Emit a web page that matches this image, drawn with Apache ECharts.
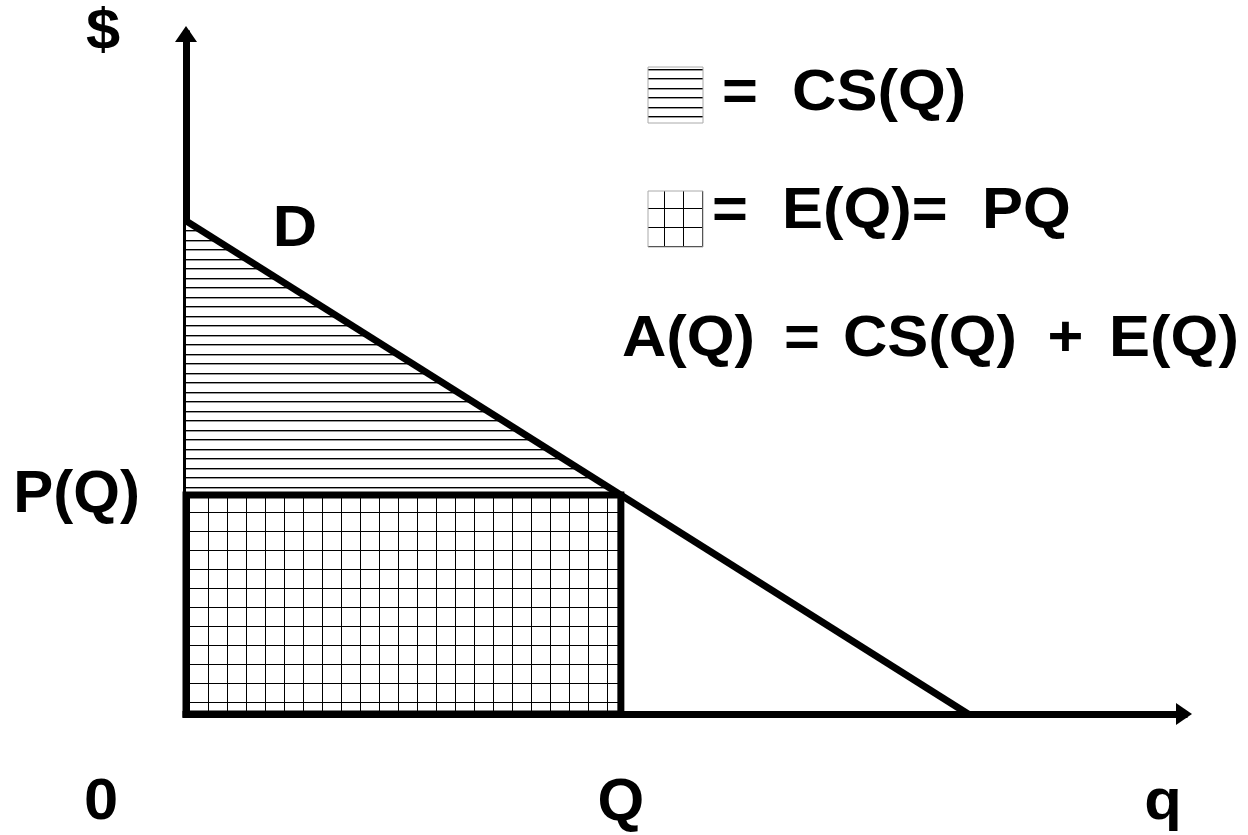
<!DOCTYPE html>
<html><head><meta charset="utf-8">
<script src="https://cdn.jsdelivr.net/npm/echarts@6/dist/echarts.min.js"></script>
<style>html,body{margin:0;padding:0;background:#fff}#c{width:1248px;height:835px}</style>
</head><body><div id="c"></div>
<script>
// ---- data ----
const demandQ = [0, 10];          // quantity at the two ends of the demand line
const demandP = [10, 0];          // price at the two ends of the demand line
const eqQ = [5.56];               // chosen quantity Q
const eqP = [4.44];               // price P(Q) on the demand line
const axisMaxX = [12.76];
const axisMaxY = [13.79];
const xTickLabels = ['Q'];
const yTickLabels = ['P(Q)'];
const legendLabels = ['=  CS(Q)', '=  E(Q)=  PQ'];
const formulaTokens = ['A(Q)', '=', 'CS(Q)', '+', 'E(Q)'];
const cornerLabels = ['$', '0', 'q', 'D'];

// ---- styles / layout ----
const FONT = 'bold 58px "Liberation Sans", Arial, sans-serif';
const SX = 1.06;
const formulaX = [688.5, 802, 930, 1065.5, 1174];
function makePattern(w, h, draw) {
  const c = document.createElement('canvas');
  c.width = w; c.height = h;
  const ctx = c.getContext('2d');
  ctx.fillStyle = '#fff'; ctx.fillRect(0, 0, w, h);
  ctx.fillStyle = '#000';
  draw(ctx);
  return { image: c, repeat: 'repeat' };
}
const hatchLines = makePattern(19, 19, ctx => {
  ctx.fillRect(0, 2, 19, 1.4);
  ctx.fillRect(0, 12, 19, 1.4);
});
const hatchGrid = makePattern(19, 19, ctx => {
  ctx.fillRect(18, 0, 1.4, 19);
  ctx.fillRect(0, 18, 19, 1.4);
});
function txt(text, x, y, align) {
  return { type: 'text', x: x, y: y, scaleX: SX,
    style: { text: text, font: FONT, fill: '#000', align: align || 'center', verticalAlign: 'middle' } };
}

const chart = echarts.init(document.getElementById('c'), null, { renderer: 'canvas' });

const axisCommon = {
  type: 'value', min: 0,
  splitLine: { show: false },
  axisTick: { show: false },
  axisLine: {
    show: true, onZero: false,
    symbol: ['none', 'triangle'], symbolSize: [22, 16],
    lineStyle: { color: '#000', width: 7, cap: 'square' }
  }
};
const labelFont = { color: '#000', fontSize: 60, fontWeight: 'bold', fontFamily: '"Liberation Sans", Arial, sans-serif' };

const option = {
  animation: false,
  backgroundColor: '#fff',
  grid: { left: 186, right: 64, top: 34, bottom: 121, outerBoundsMode: 'none' },
  xAxis: Object.assign({}, axisCommon, {
    max: axisMaxX[0],
    axisLabel: Object.assign({
      customValues: eqQ,
      formatter: () => xTickLabels[0],
      margin: 89, verticalAlign: 'middle'
    }, labelFont)
  }),
  yAxis: Object.assign({}, axisCommon, {
    max: axisMaxY[0],
    axisLabel: Object.assign({
      customValues: eqP,
      formatter: () => yTickLabels[0],
      margin: 46
    }, labelFont)
  }),
  series: [
    {
      // consumer surplus triangle
      type: 'custom', z: 1, silent: true,
      data: [[eqQ[0], eqP[0]]],
      renderItem: (params, api) => {
        const pts = [
          api.coord([demandQ[0], demandP[0]]),
          api.coord([0, eqP[0]]),
          api.coord([eqQ[0], eqP[0]])
        ];
        return { type: 'polygon', shape: { points: pts }, style: { fill: hatchLines, stroke: null } };
      }
    },
    {
      // expenditure rectangle
      type: 'custom', z: 2, silent: true,
      data: [[eqQ[0], eqP[0]]],
      renderItem: (params, api) => {
        const pts = [
          api.coord([0, 0]),
          api.coord([0, eqP[0]]),
          api.coord([eqQ[0], eqP[0]]),
          api.coord([eqQ[0], 0])
        ];
        return { type: 'polygon', shape: { points: pts },
          style: { fill: hatchGrid, stroke: '#000', lineWidth: 7, lineJoin: 'miter' } };
      }
    },
    {
      // demand curve
      type: 'line', z: 3, silent: true,
      data: demandQ.map((q, i) => [q, demandP[i]]),
      symbol: 'none',
      lineStyle: { color: '#000', width: 7 }
    }
  ],
  graphic: [
    txt(cornerLabels[0], 103, 33),
    txt(cornerLabels[1], 101, 803),
    txt(cornerLabels[2], 1163, 803),
    txt(cornerLabels[3], 295, 230),
    { type: 'rect', shape: { x: 648, y: 67, width: 55, height: 56 }, style: { fill: hatchLines, stroke: '#aaa', lineWidth: 1 } },
    { type: 'rect', shape: { x: 648, y: 191, width: 55, height: 56 }, style: { fill: hatchGrid, stroke: '#aaa', lineWidth: 1 } },
    txt(legendLabels[0], 722, 94, 'left'),
    txt(legendLabels[1], 712, 212, 'left')
  ].concat(formulaTokens.map((t, i) => txt(t, formulaX[i], 340)))
};
chart.setOption(option);
</script>
</body></html>
